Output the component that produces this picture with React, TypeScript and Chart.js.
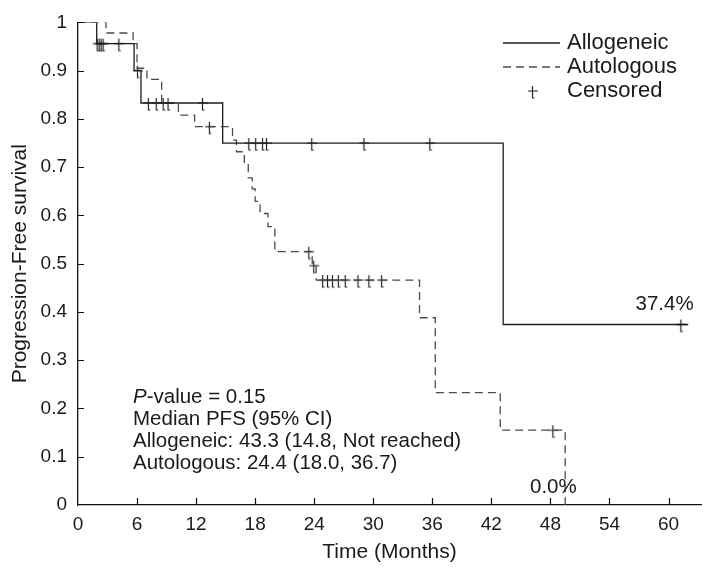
import React, { useEffect, useRef } from "react";
import { Chart, registerables } from "chart.js";

Chart.register(...registerables);

// ---- Data ----
const seriesLabels = ["Allogeneic", "Autologous", "Censored"];

// Kaplan-Meier step points: time (months) -> survival after that time
const alloTimes = [0, 1.9, 5.7, 6.4, 14.7, 43.2, 62];
const alloSurv = [1, 0.956, 0.9, 0.833, 0.75, 0.374, 0.374];

const autoTimes = [0, 2.85, 5.6, 6.0, 7.0, 8.5, 10.2, 11.85, 15.7, 16.1, 16.9, 17.3, 17.7, 18.0, 18.5, 19.3, 20.0, 23.8, 24.2, 34.7, 36.3, 42.9, 49.5];
const autoSurv = [1, 0.978, 0.956, 0.905, 0.882, 0.833, 0.808, 0.784, 0.756, 0.732, 0.705, 0.678, 0.655, 0.629, 0.604, 0.577, 0.525, 0.496, 0.466, 0.388, 0.233, 0.155, 0];

const alloCensorTimes = [2.0, 2.2, 2.4, 2.6, 4.2, 6.1, 7.2, 8.0, 8.7, 12.7, 17.4, 18.1, 18.8, 19.2, 23.8, 29.1, 35.8, 61.3];
const autoCensorTimes = [9.2, 13.4, 23.5, 24.0, 24.9, 25.4, 25.9, 26.5, 27.2, 28.5, 29.6, 30.9, 48.3];

const xTicks = [0, 6, 12, 18, 24, 30, 36, 42, 48, 54, 60];
const yTicks = [0, 0.1, 0.2, 0.3, 0.4, 0.5, 0.6, 0.7, 0.8, 0.9, 1];
const xMax = 63.3;

const xTitle = "Time (Months)";
const yTitle = "Progression-Free survival";

const annotationLines = ["-value = 0.15", "Median PFS (95% CI)", "Allogeneic: 43.3 (14.8, Not reached)", "Autologous: 24.4 (18.0, 36.7)"];
const endLabels = ["37.4%", "0.0%"];

const FONT = '"Liberation Sans", Arial, Helvetica, sans-serif';

function stepAt(times: number[], surv: number[], t: number) {
  let v = surv[0];
  for (let i = 0; i < times.length; i++) {
    if (times[i] <= t) v = surv[i];
  }
  return v;
}

function makeCensorMark(): HTMLCanvasElement {
  const c = document.createElement("canvas");
  c.width = 16;
  c.height = 20;
  const g = c.getContext("2d")!;
  g.strokeStyle = "#222";
  g.lineWidth = 1.2;
  g.beginPath();
  g.moveTo(7.5, 5);
  g.lineTo(7.5, 17);
  g.lineTo(9.5, 17);
  g.moveTo(3, 10);
  g.lineTo(13, 10);
  g.stroke();
  return c;
}

export default function App() {
  const ref = useRef<HTMLCanvasElement>(null);

  useEffect(() => {
    const canvas = ref.current!;
    const mark = makeCensorMark();

    const overlay = {
      id: "overlay",
      afterDraw(chart: any) {
        const ctx = chart.ctx as CanvasRenderingContext2D;
        const xs = chart.scales.x;
        const ys = chart.scales.y;
        const area = chart.chartArea;
        ctx.save();
        // inward tick marks
        ctx.strokeStyle = "#111";
        ctx.lineWidth = 1.2;
        ctx.beginPath();
        xTicks.forEach((v) => {
          if (v === 0) return;
          const px = Math.round(xs.getPixelForValue(v)) + 0.5;
          ctx.moveTo(px, area.bottom);
          ctx.lineTo(px, area.bottom - 7);
        });
        yTicks.forEach((v) => {
          if (v === 0) return;
          const py = Math.round(ys.getPixelForValue(v)) + 0.5;
          ctx.moveTo(area.left, py);
          ctx.lineTo(area.left + 6, py);
        });
        ctx.stroke();

        // legend
        const lx0 = 503, lx1 = 560, tx = 567;
        const ly = [43, 67, 91];
        ctx.lineWidth = 1.3;
        ctx.strokeStyle = "#1c1c1c";
        ctx.beginPath();
        ctx.moveTo(lx0, ly[0]);
        ctx.lineTo(lx1, ly[0]);
        ctx.stroke();
        ctx.strokeStyle = "#4a4a4a";
        ctx.setLineDash([8, 5]);
        ctx.beginPath();
        ctx.moveTo(lx0, ly[1]);
        ctx.lineTo(lx1, ly[1]);
        ctx.stroke();
        ctx.setLineDash([]);
        ctx.drawImage(mark, 533 - mark.width / 2, ly[2] - mark.height / 2);
        ctx.fillStyle = "#1a1a1a";
        ctx.font = `22px ${FONT}`;
        ctx.textBaseline = "middle";
        ctx.textAlign = "left";
        seriesLabels.forEach((s, i) => ctx.fillText(s, tx, ly[i]));

        // annotation block
        const ax = 133;
        const ay = [397, 419, 441, 463];
        ctx.font = `italic 20.5px ${FONT}`;
        ctx.fillText("P", ax, ay[0]);
        const pw = ctx.measureText("P").width;
        ctx.font = `20.5px ${FONT}`;
        ctx.fillText(annotationLines[0], ax + pw, ay[0]);
        for (let i = 1; i < annotationLines.length; i++) {
          ctx.fillText(annotationLines[i], ax, ay[i]);
        }

        // end labels
        ctx.textAlign = "center";
        ctx.fillText(endLabels[0], xs.getPixelForValue(59.6), ys.getPixelForValue(alloSurv[alloSurv.length - 1]) - 20);
        ctx.fillText(endLabels[1], xs.getPixelForValue(48.3), ys.getPixelForValue(0) - 18);
        ctx.restore();
      },
    };

    const chart = new Chart(canvas, {
      type: "line",
      data: {
        datasets: [
          {
            label: seriesLabels[0],
            data: alloTimes.map((t, i) => ({ x: t, y: alloSurv[i] })),
            stepped: true,
            borderColor: "#1c1c1c",
            borderWidth: 1.3,
            pointRadius: 0,
            fill: false,
          },
          {
            label: seriesLabels[1],
            data: autoTimes.map((t, i) => ({ x: t, y: autoSurv[i] })),
            stepped: true,
            borderColor: "#4a4a4a",
            borderDash: [8, 5],
            borderWidth: 1.3,
            pointRadius: 0,
            fill: false,
          },
          {
            label: seriesLabels[2] + " (Allogeneic)",
            data: alloCensorTimes.map((t) => ({ x: t, y: stepAt(alloTimes, alloSurv, t) })),
            showLine: false,
            pointStyle: mark as any,
            pointRadius: 6,
          },
          {
            label: seriesLabels[2] + " (Autologous)",
            data: autoCensorTimes.map((t) => ({ x: t, y: stepAt(autoTimes, autoSurv, t) })),
            showLine: false,
            pointStyle: mark as any,
            pointRadius: 6,
          },
        ],
      } as any,
      options: {
        animation: false,
        responsive: false,
        devicePixelRatio: 1,
        layout: { padding: { top: 16, right: 6, left: 0, bottom: 0 } },
        plugins: { legend: { display: false }, tooltip: { enabled: false } },
        scales: {
          x: {
            type: "linear",
            min: 0,
            max: xMax,
            grid: { display: false, drawTicks: false },
            border: { display: true, color: "#111", width: 1.3 },
            afterBuildTicks: (s: any) => {
              s.ticks = xTicks.map((v) => ({ value: v }));
            },
            afterFit: (s: any) => {
              s.height = 66;
            },
            ticks: {
              padding: 8,
              color: "#1a1a1a",
              font: { family: FONT, size: 19 },
              maxRotation: 0,
              autoSkip: false,
              callback: (v: any) => String(v),
            },
            title: {
              display: true,
              text: xTitle,
              color: "#1a1a1a",
              font: { family: FONT, size: 21 },
              padding: { top: 0, bottom: 6 },
            },
          },
          y: {
            type: "linear",
            min: 0,
            max: 1,
            grid: { display: false, drawTicks: false },
            border: { display: true, color: "#111", width: 1.3 },
            afterBuildTicks: (s: any) => {
              s.ticks = yTicks.map((v) => ({ value: v }));
            },
            afterFit: (s: any) => {
              s.width = 78;
            },
            ticks: {
              padding: 11,
              color: "#1a1a1a",
              font: { family: FONT, size: 19 },
              autoSkip: false,
              callback: (v: any) => (v === 0 ? "0" : v === 1 ? "1" : Number(v).toFixed(1)),
            },
            title: {
              display: true,
              text: yTitle,
              color: "#1a1a1a",
              font: { family: FONT, size: 21 },
              padding: { top: 8, bottom: 0 },
            },
          },
        },
      } as any,
      plugins: [overlay],
    });

    return () => chart.destroy();
  }, []);

  return (
    <div style={{ position: "absolute", left: 0, top: 0, width: 708, height: 571, background: "#fff" }}>
      <canvas ref={ref} width={708} height={571} style={{ display: "block" }} />
    </div>
  );
}
